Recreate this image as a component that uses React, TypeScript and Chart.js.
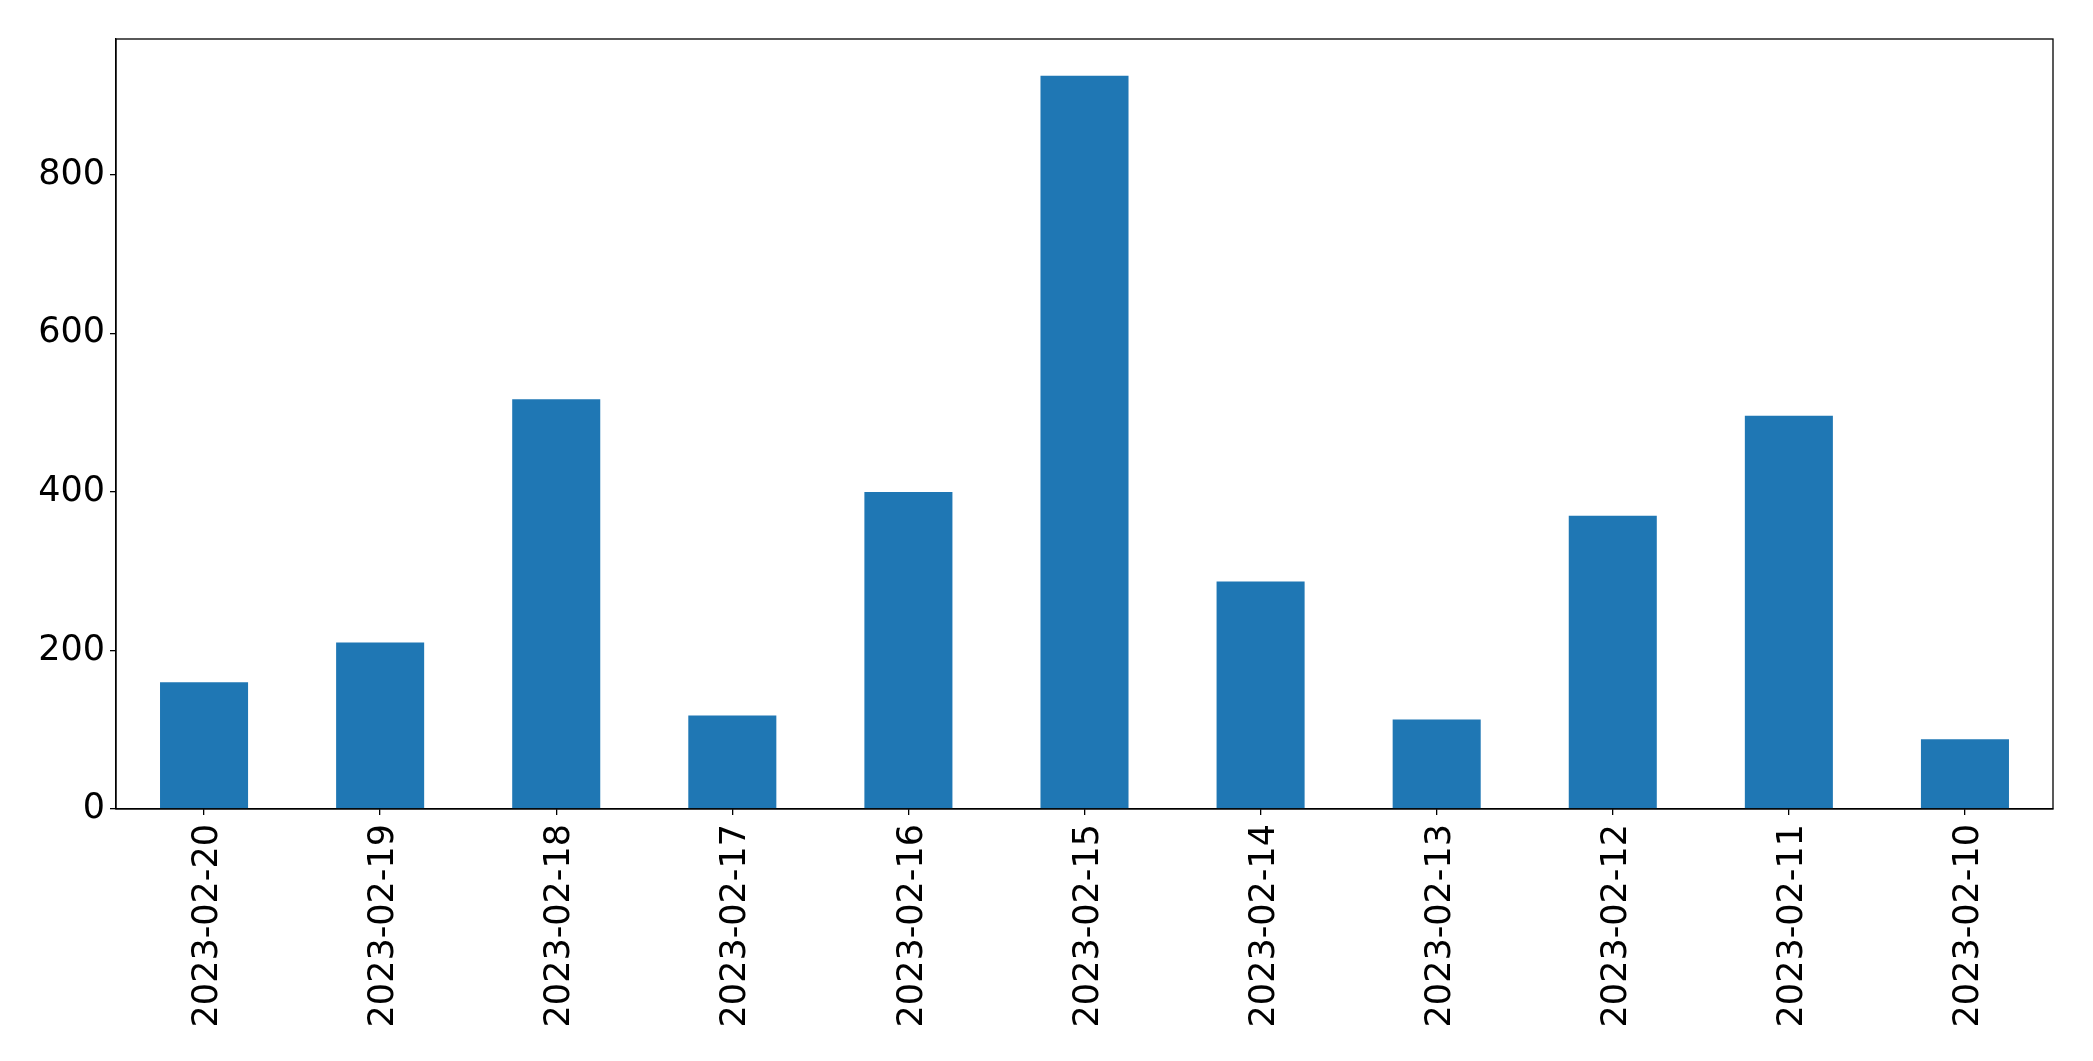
import React, { useEffect, useRef } from "react";
import { Chart, registerables } from "chart.js";

Chart.register(...registerables);

const categories = [
  "2023-02-20", "2023-02-19", "2023-02-18", "2023-02-17", "2023-02-16", "2023-02-15",
  "2023-02-14", "2023-02-13", "2023-02-12", "2023-02-11", "2023-02-10",
];
const counts = [160, 210, 517, 118, 400, 925, 287, 113, 370, 496, 88];
const yTicks = [0, 200, 400, 600, 800];

const frame = {
  id: "frame",
  afterDraw(chart: any) {
    const { ctx, chartArea } = chart;
    ctx.save();
    ctx.strokeStyle = "#000";
    ctx.lineWidth = 1.3;
    ctx.strokeRect(chartArea.left, chartArea.top, chartArea.right - chartArea.left, chartArea.bottom - chartArea.top);
    ctx.restore();
  },
};

export default function App() {
  const ref = useRef<HTMLCanvasElement>(null);
  useEffect(() => {
    document.body.style.margin = "0";
    const font = { family: "'DejaVu Sans', sans-serif", size: 35 };
    const yMax = Math.max(...counts) * 1.05;
    const chart = new Chart(ref.current!, {
      type: "bar",
      data: {
        labels: categories,
        datasets: [
          {
            data: counts,
            backgroundColor: "#1f77b4",
            barPercentage: 0.5,
            categoryPercentage: 1.0,
          },
        ],
      },
      options: {
        animation: false,
        responsive: false,
        maintainAspectRatio: false,
        layout: { padding: { top: 39, right: 40, left: 0, bottom: 0 } },
        plugins: { legend: { display: false }, tooltip: { enabled: false } },
        scales: {
          x: {
            grid: { display: true, offset: false, drawOnChartArea: false, drawTicks: true, tickLength: 6, color: "#000", lineWidth: 1.3 },
            border: { display: true, color: "#000", width: 1.3 },
            ticks: { color: "#000", font, minRotation: 90, maxRotation: 90, padding: 9, autoSkip: false, labelOffset: 4 },
            afterFit(scale: any) { scale.height = 252; },
          },
          y: {
            min: 0,
            max: yMax,
            grid: { display: true, drawOnChartArea: false, drawTicks: true, tickLength: 6, color: "#000", lineWidth: 1.3 },
            border: { display: true, color: "#000", width: 1.3 },
            ticks: { color: "#000", font, padding: 5, stepSize: 200 },
            afterBuildTicks(scale: any) { scale.ticks = yTicks.map((v) => ({ value: v })); },
            afterFit(scale: any) { scale.width = 116; },
          },
        },
      },
      plugins: [frame],
    });
    return () => chart.destroy();
  }, []);
  return (
    <div style={{ position: "fixed", left: 0, top: 0, width: 2093, height: 1061, background: "#fff" }}>
      <canvas ref={ref} width={2093} height={1061} style={{ width: 2093, height: 1061 }} />
    </div>
  );
}
